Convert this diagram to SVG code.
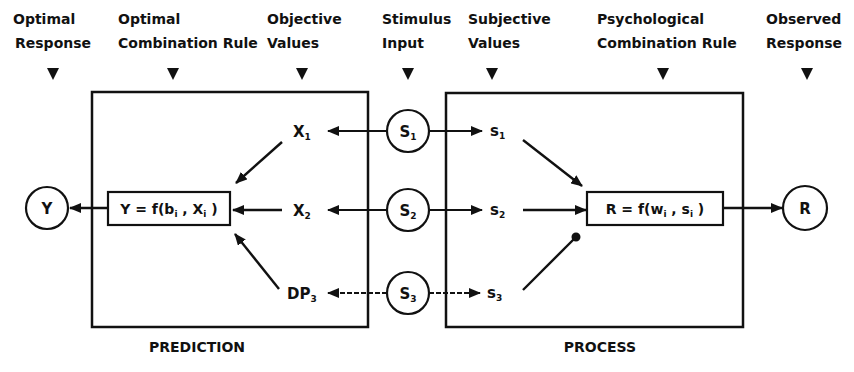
<svg xmlns="http://www.w3.org/2000/svg" width="854" height="372" viewBox="0 0 854 372">
  <style>
    text { font-family: "DejaVu Sans", "Liberation Sans", sans-serif; fill: #111; }
    .hdr { font-size: 14px; font-weight: bold; }
    .lbl { font-size: 15px; font-weight: bold; }
    .fn { font-size: 14px; font-weight: bold; }
    .cap { font-size: 14px; font-weight: bold; text-anchor: middle; }
    .sub { font-size: 9px; }
    .frame { fill: none; stroke: #111; stroke-width: 2.5; }
    .node { fill: #fff; stroke: #111; stroke-width: 2.2; }
    .tri { fill: #111; }
    .edge { fill: none; stroke: #111; stroke-width: 2.4; }
    .thin { fill: none; stroke: #111; stroke-width: 2; }
    .dash { stroke-dasharray: 5 2; }
  </style>
  <defs>
    <marker id="head" markerUnits="userSpaceOnUse" markerWidth="12" markerHeight="10" refX="11" refY="5" orient="auto">
      <path d="M0,0 L12,5 L0,10 z" fill="#111"/>
    </marker>
    <marker id="ball" markerUnits="userSpaceOnUse" markerWidth="10" markerHeight="10" refX="5" refY="5" orient="auto">
      <circle cx="5" cy="5" r="4.5" fill="#111"/>
    </marker>
  </defs>

  <!-- column headings -->
  <g id="headings">
    <text class="hdr" x="13" y="24">Optimal</text>
    <text class="hdr" x="15" y="48">Response</text>
    <path class="tri" d="M47,68 L59,68 L53,80 z"/>

    <text class="hdr" x="118" y="24">Optimal</text>
    <text class="hdr" x="118" y="48">Combination Rule</text>
    <path class="tri" d="M167,68 L179,68 L173,80 z"/>

    <text class="hdr" x="267" y="24">Objective</text>
    <text class="hdr" x="267" y="48">Values</text>
    <path class="tri" d="M296,68 L308,68 L302,80 z"/>

    <text class="hdr" x="382" y="24">Stimulus</text>
    <text class="hdr" x="382" y="48">Input</text>
    <path class="tri" d="M402,68 L414,68 L408,80 z"/>

    <text class="hdr" x="468" y="24">Subjective</text>
    <text class="hdr" x="468" y="48">Values</text>
    <path class="tri" d="M486,68 L498,68 L492,80 z"/>

    <text class="hdr" x="597" y="24">Psychological</text>
    <text class="hdr" x="597" y="48">Combination Rule</text>
    <path class="tri" d="M657,68 L669,68 L663,80 z"/>

    <text class="hdr" x="766" y="24">Observed</text>
    <text class="hdr" x="766" y="48">Response</text>
    <path class="tri" d="M801,68 L813,68 L807,80 z"/>
  </g>

  <!-- PREDICTION and PROCESS frames -->
  <g id="prediction">
    <rect class="frame" x="92" y="92" width="276" height="235"/>
    <text class="cap" x="197" y="352">PREDICTION</text>
  </g>
  <g id="process">
    <rect class="frame" x="446" y="93" width="297" height="234"/>
    <text class="cap" x="600" y="352">PROCESS</text>
  </g>

  <!-- connectors -->
  <g id="connectors">
    <line class="edge" x1="108" y1="208" x2="70" y2="208" marker-end="url(#head)"/>
    <line class="edge" x1="282" y1="142" x2="236" y2="183" marker-end="url(#head)"/>
    <line class="edge" x1="282" y1="210" x2="233" y2="210" marker-end="url(#head)"/>
    <line class="edge" x1="279" y1="289" x2="235" y2="234" marker-end="url(#head)"/>

    <line class="thin" x1="387" y1="131" x2="328" y2="131" marker-end="url(#head)"/>
    <line class="thin" x1="387" y1="210" x2="328" y2="210" marker-end="url(#head)"/>
    <line class="thin dash" x1="387" y1="293" x2="328" y2="293" marker-end="url(#head)"/>

    <line class="thin" x1="429" y1="131" x2="482" y2="131" marker-end="url(#head)"/>
    <line class="thin" x1="429" y1="210" x2="482" y2="210" marker-end="url(#head)"/>
    <line class="thin dash" x1="429" y1="293" x2="480" y2="293" marker-end="url(#head)"/>

    <line class="edge" x1="523" y1="140" x2="582" y2="186" marker-end="url(#head)"/>
    <line class="edge" x1="523" y1="210" x2="586" y2="210" marker-end="url(#head)"/>
    <line class="edge" x1="523" y1="290" x2="576" y2="237" marker-end="url(#ball)"/>

    <line class="edge" x1="723" y1="208" x2="782" y2="208" marker-end="url(#head)"/>
  </g>

  <!-- nodes -->
  <g id="node-Y">
    <circle class="node" cx="47" cy="208" r="21"/>
    <text class="lbl" x="47" y="214" text-anchor="middle">Y</text>
  </g>
  <g id="node-optimal-rule">
    <rect class="node" x="108" y="192" width="122" height="33"/>
    <text class="fn" x="169" y="214" text-anchor="middle">Y = f(b<tspan class="sub" dy="3">i</tspan><tspan dy="-3"> , X</tspan><tspan class="sub" dy="3">i</tspan><tspan dy="-3"> )</tspan></text>
  </g>
  <g id="node-X1">
    <text class="lbl" x="293" y="137">X<tspan class="sub" dy="3">1</tspan></text>
  </g>
  <g id="node-X2">
    <text class="lbl" x="293" y="216">X<tspan class="sub" dy="3">2</tspan></text>
  </g>
  <g id="node-DP3">
    <text class="lbl" x="287" y="299">DP<tspan class="sub" dy="3">3</tspan></text>
  </g>
  <g id="node-S1">
    <circle class="node" cx="408" cy="131" r="21"/>
    <text class="lbl" x="408" y="137" text-anchor="middle">S<tspan class="sub" dy="3">1</tspan></text>
  </g>
  <g id="node-S2">
    <circle class="node" cx="408" cy="210" r="21"/>
    <text class="lbl" x="408" y="216" text-anchor="middle">S<tspan class="sub" dy="3">2</tspan></text>
  </g>
  <g id="node-S3">
    <circle class="node" cx="408" cy="293" r="21"/>
    <text class="lbl" x="408" y="299" text-anchor="middle">S<tspan class="sub" dy="3">3</tspan></text>
  </g>
  <g id="node-s1">
    <text class="lbl" x="490" y="136">s<tspan class="sub" dy="3">1</tspan></text>
  </g>
  <g id="node-s2">
    <text class="lbl" x="490" y="215">s<tspan class="sub" dy="3">2</tspan></text>
  </g>
  <g id="node-s3">
    <text class="lbl" x="487" y="298">s<tspan class="sub" dy="3">3</tspan></text>
  </g>
  <g id="node-psych-rule">
    <rect class="node" x="587" y="192" width="136" height="33"/>
    <text class="fn" x="655" y="214" text-anchor="middle">R = f(w<tspan class="sub" dy="3">i</tspan><tspan dy="-3"> , s</tspan><tspan class="sub" dy="3">i</tspan><tspan dy="-3"> )</tspan></text>
  </g>
  <g id="node-R">
    <circle class="node" cx="805" cy="208" r="22"/>
    <text class="lbl" x="805" y="214" text-anchor="middle">R</text>
  </g>
</svg>
